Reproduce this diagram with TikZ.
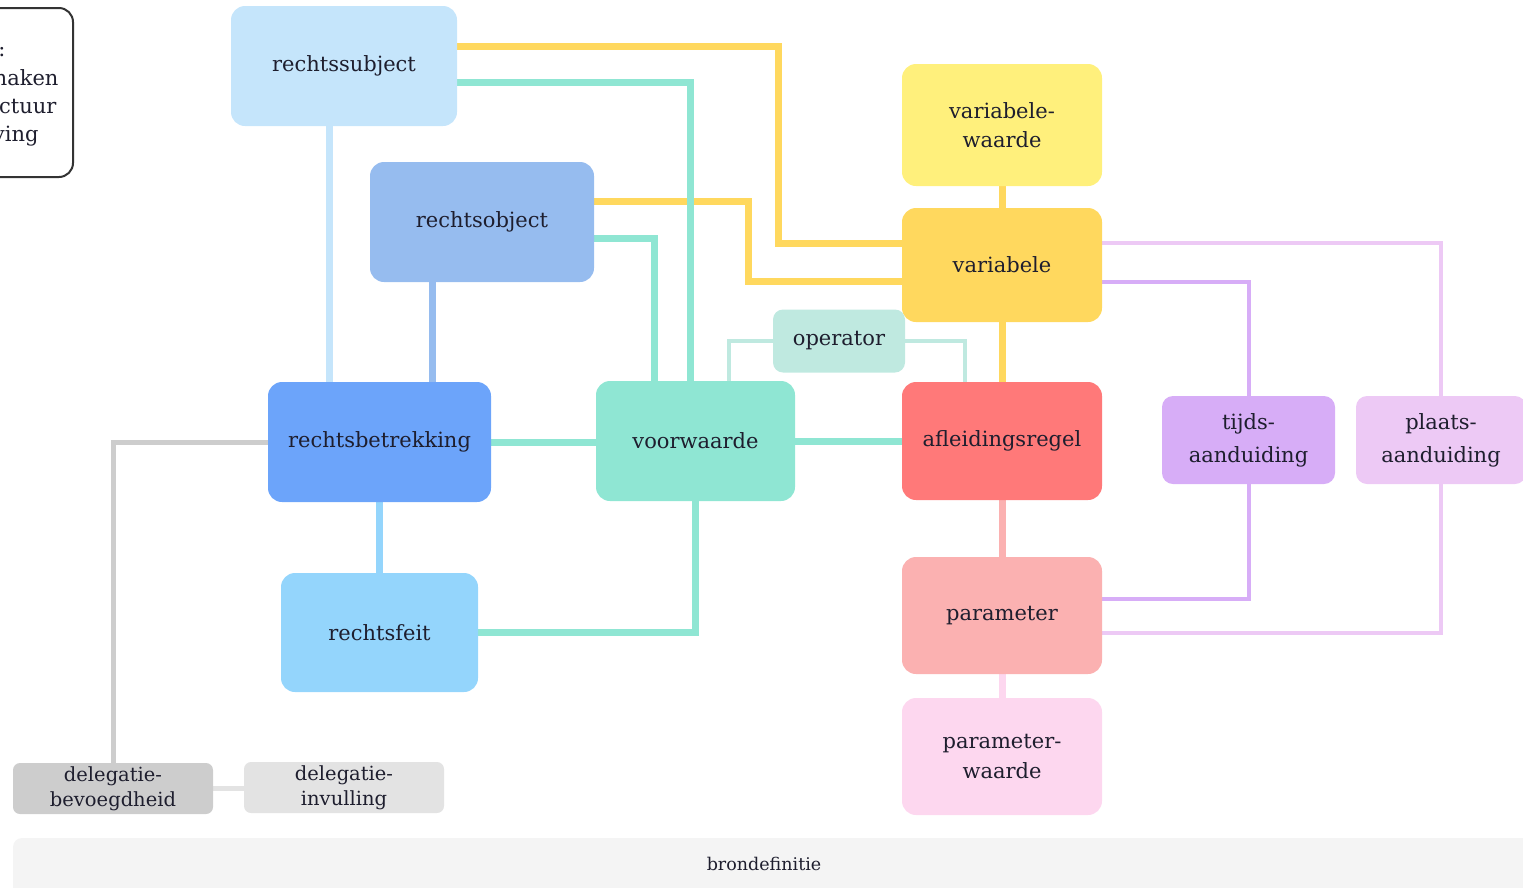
\documentclass[tikz,border=0pt]{standalone}
\usepackage{fontspec}
\setmainfont{DejaVu Serif}
\usetikzlibrary{backgrounds}
\begin{document}
\begin{tikzpicture}[x=1pt,y=-1pt,
  box/.style={rounded corners=14pt, inner sep=0pt, align=center, text=txt, font=\fontsize{21}{29}\selectfont},
  sbox/.style={rounded corners=7pt, inner sep=0pt, align=center, text=txt, font=\fontsize{19.5}{25}\selectfont},
  con/.style={line width=7pt},
  thin/.style={line width=4pt}]
\definecolor{txt}{HTML}{1E1E2E}
\definecolor{cRS}{HTML}{C5E5FB}
\definecolor{cRO}{HTML}{96BCEF}
\definecolor{cVW}{HTML}{FFF07C}
\definecolor{cVAR}{HTML}{FFD85E}
\definecolor{cOP}{HTML}{BFE9E0}
\definecolor{cRB}{HTML}{6CA4FA}
\definecolor{cVO}{HTML}{8FE6D3}
\definecolor{cAF}{HTML}{FF7979}
\definecolor{cTIJ}{HTML}{D7ADF7}
\definecolor{cPL}{HTML}{EDC9F5}
\definecolor{cRF}{HTML}{94D5FC}
\definecolor{cPAR}{HTML}{FBB1B1}
\definecolor{cPW}{HTML}{FDD7EF}
\definecolor{cDB}{HTML}{CDCDCD}
\definecolor{cDI}{HTML}{E3E3E3}
\definecolor{cBR}{HTML}{F4F4F4}
\useasboundingbox (0,0) rectangle (1523,887);
\clip (0,0) rectangle (1523,887);
% legend box (partly outside)
\draw[line width=2pt, rounded corners=14pt, draw=black!80] (-60,8) rectangle (73,177);
\node[anchor=base east, text=txt, font=\fontsize{21}{24}\selectfont] (l1) at (9,56) {Uitleg:};
\node[anchor=base east, text=txt, font=\fontsize{21}{24}\selectfont] (l2) at (62,85) {maken};
\node[anchor=base east, text=txt, font=\fontsize{21}{24}\selectfont] (l3) at (60,113) {structuur};
\node[anchor=base east, text=txt, font=\fontsize{21}{24}\selectfont] (l4) at (42,141) {wetgeving};
% brondefinitie bar
\fill[cBR, rounded corners=9pt] (13,838) rectangle (1560,910);
\node[text=txt, font=\fontsize{17.5}{20}\selectfont] (bd) at (764,864) {brondefinitie};
% nodes
\node[box, fill=cRS, minimum width=226pt, minimum height=120pt] (rs) at (344,66) {rechtssubject};
\node[box, fill=cRO, minimum width=224pt, minimum height=120pt] (ro) at (482,222) {rechtsobject};
\node[box, fill=cVW, minimum width=200pt, minimum height=122pt] (vw) at (1002,125) {variabele-\\waarde};
\node[box, fill=cVAR, minimum width=200pt, minimum height=114pt] (var) at (1002,265) {variabele};
\node[box, rounded corners=10pt, fill=cOP, minimum width=132pt, minimum height=63pt] (op) at (839,341) {operator};
\node[box, fill=cRB, minimum width=223pt, minimum height=120pt] (rb) at (379.5,442) {rechtsbetrekking};
\node[box, fill=cVO, minimum width=199pt, minimum height=120pt] (vo) at (695.5,441) {voorwaarde};
\node[box, fill=cAF, minimum width=200pt, minimum height=118pt] (af) at (1002,441) {afleidingsregel};
\node[box, rounded corners=11pt, fill=cTIJ, minimum width=173pt, minimum height=88pt, font=\fontsize{21}{33}\selectfont] (tij) at (1248.5,440) {tijds-\\aanduiding};
\node[box, rounded corners=11pt, fill=cPL, minimum width=170pt, minimum height=88pt, font=\fontsize{21}{33}\selectfont] (pl) at (1441,440) {plaats-\\aanduiding};
\node[box, fill=cRF, minimum width=197pt, minimum height=119pt] (rf) at (379.5,632.5) {rechtsfeit};
\node[box, fill=cPAR, minimum width=200pt, minimum height=117pt] (par) at (1002,615.5) {parameter};
\node[box, fill=cPW, minimum width=200pt, minimum height=117pt, font=\fontsize{21}{30}\selectfont] (pw) at (1002,756.5) {parameter-\\waarde};
\node[sbox, fill=cDB, minimum width=200pt, minimum height=51pt] (db) at (113,788.5) {delegatie-\\bevoegdheid};
\node[sbox, fill=cDI, minimum width=200pt, minimum height=51pt] (di) at (344,787.5) {delegatie-\\invulling};
% connectors (behind nodes)
\begin{pgfonlayer}{background}
\draw[con, cVAR] ([yshift=20pt]rs.east) -- ++(321,0) |- ([yshift=22pt]var.west);
\draw[con, cVAR] ([yshift=21pt]ro.east) -- ++(154,0) |- ([yshift=-16pt]var.west);
\draw[con, cVO] ([yshift=-16pt]rs.east) -| ([xshift=-5pt]vo.north);
\draw[con, cVO] ([yshift=-16pt]ro.east) -| ([xshift=-41pt]vo.north);
\draw[con, cRS] ([xshift=-15pt]rs.south) -- ([xshift=-15pt]rs.south |- rb.north);
\draw[con, cRO] ([xshift=-50pt]ro.south) -- ([xshift=-50pt]ro.south |- rb.north);
\draw[con, cRF] (rb.south) -- (rf.north);
\draw[con, cVO] (rb.east) -- (rb.east -| vo.west);
\draw[con, cVO] (vo.east) -- (af.west);
\draw[con, cVO] (rf.east) -| (vo.south);
\draw[thin, cOP] (op.west) -| ([xshift=33pt]vo.north);
\draw[thin, cOP] (op.east) -| ([xshift=-37pt]af.north);
\draw[con, cVAR] (vw.south) -- (var.north);
\draw[con, cVAR] (var.south) -- (af.north);
\draw[con, cPAR] (af.south) -- (par.north);
\draw[con, cPW] (par.south) -- (pw.north);
\draw[thin, cTIJ] ([yshift=-17pt]var.east) -| (tij.north);
\draw[thin, cTIJ] (tij.south) |- ([yshift=17pt]par.east);
\draw[thin, cPL] ([yshift=22pt]var.east) -| (pl.north);
\draw[thin, cPL] (pl.south) |- ([yshift=-17pt]par.east);
\draw[line width=5pt, cDB] (rb.west) -| (db.north);
\draw[line width=5pt, cDI] (db.east) -- (db.east -| di.west);
\end{pgfonlayer}
\end{tikzpicture}
\end{document}
